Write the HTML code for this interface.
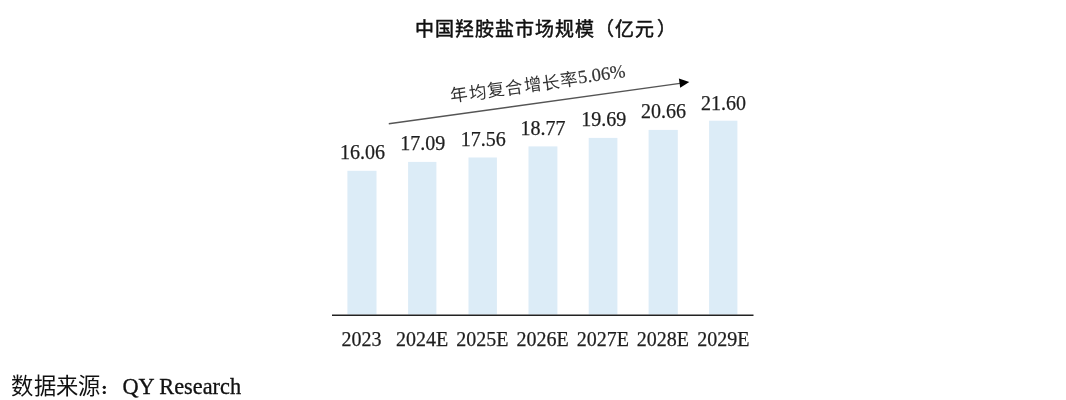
<!DOCTYPE html>
<html lang="zh-CN">
<head>
<meta charset="utf-8">
<style>
html,body{margin:0;padding:0;background:#fff;}
body{width:1066px;height:400px;overflow:hidden;position:relative;font-family:"Liberation Serif",serif;}
svg{position:absolute;left:0;top:0;will-change:transform;}
text{font-family:"Liberation Serif",serif;}
</style>
</head>
<body>
<svg width="1066" height="400" viewBox="0 0 1066 400">
  <!-- title -->
  <text x="414.8 434.8 454.8 474.8 494.8 514.8 534.8 554.8 574.8 594.8 614.8 634.8 657.3" y="36" font-size="19" font-weight="500" fill="#111" stroke="#111" stroke-width="0.5">中国羟胺盐市场规模（亿元）</text>

  <!-- bars -->
  <g fill="#DCECF7">
    <rect x="347.4" y="170.8" width="29.1" height="143.7"/>
    <rect x="408.1" y="161.9" width="28.3" height="152.6"/>
    <rect x="468.5" y="157.5" width="28.4" height="157"/>
    <rect x="528.5" y="146.4" width="28.9" height="168.1"/>
    <rect x="588.7" y="137.9" width="28.7" height="176.6"/>
    <rect x="648.6" y="129.9" width="29.2" height="184.6"/>
    <rect x="709.1" y="120.7" width="28.3" height="193.8"/>
  </g>

  <!-- axis -->
  <rect x="332" y="314.5" width="421.5" height="1.5" fill="#222"/>

  <!-- value labels -->
  <g font-size="20" fill="#1e1e1e" stroke="#1e1e1e" stroke-width="0.25" text-anchor="middle">
    <text x="362.5" y="158.9">16.06</text>
    <text x="422.8" y="150">17.09</text>
    <text x="483.2" y="145.7">17.56</text>
    <text x="543.1" y="134.6">18.77</text>
    <text x="603.8" y="126.1">19.69</text>
    <text x="663.4" y="118.1">20.66</text>
    <text x="723.4" y="110.1">21.60</text>
  </g>

  <!-- category labels -->
  <g font-size="20" fill="#1e1e1e" stroke="#1e1e1e" stroke-width="0.25" text-anchor="middle">
    <text x="361.4" y="345.5">2023</text>
    <text x="422" y="345.5">2024E</text>
    <text x="482.4" y="345.5">2025E</text>
    <text x="542.6" y="345.5">2026E</text>
    <text x="602.8" y="345.5">2027E</text>
    <text x="662.9" y="345.5">2028E</text>
    <text x="723.3" y="345.5">2029E</text>
  </g>

  <!-- CAGR arrow -->
  <line x1="388.8" y1="123.7" x2="680" y2="83.4" stroke="#555" stroke-width="1.4"/>
  <polygon points="689.3,81.9 678.9,78.6 680.2,87.8" fill="#000"/>
  <g transform="translate(450.5,101.2) rotate(-7.88)" font-size="18.5" fill="#333">
    <text x="0.6 19.1 37.6 56.1 74.6 93.1 111.6" y="1.1" font-size="17.5" font-weight="300">年均复合增长率</text>
    <text x="129.5" y="0" stroke="#333" stroke-width="0.2">5.06%</text>
  </g>

  <!-- source -->
  <text x="11.3 33.6 55.9 78.2" y="394" font-size="22.3" font-weight="300" fill="#111">数据来源</text>
  <circle cx="104.3" cy="387.3" r="1.6" fill="#111"/><circle cx="104.3" cy="392.5" r="1.6" fill="#111"/>
  <text x="122.4" y="394" font-size="22.3" fill="#111" stroke="#111" stroke-width="0.3">QY Research</text>
</svg>
</body>
</html>
